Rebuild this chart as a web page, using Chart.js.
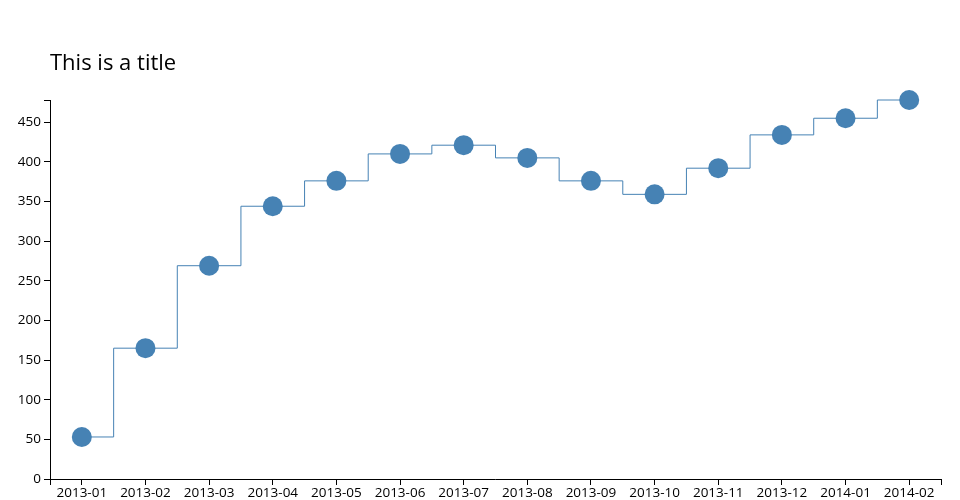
<!DOCTYPE html>
<html>
<head>
<meta charset="utf-8">
<script src="https://cdn.jsdelivr.net/npm/chart.js@4/dist/chart.umd.min.js"></script>
<style>
  html, body { margin: 0; padding: 0; background: #fff; }
  #wrap { width: 960px; height: 500px; position: relative; }
</style>
</head>
<body>
<div id="wrap"><canvas id="c" width="960" height="500"></canvas></div>
<script>
const categories = ["2013-01","2013-02","2013-03","2013-04","2013-05","2013-06","2013-07","2013-08","2013-09","2013-10","2013-11","2013-12","2014-01","2014-02"];
const values = [53, 165, 269, 344, 376, 410, 421, 405, 376, 359, 392, 434, 455, 478];
const titleText = "This is a title";
const yMax = 478;
const yStep = 50;

const FONT = "'Open Sans', 'Noto Sans', sans-serif";
const COLOR = "steelblue";

const extras = {
  id: 'extras',
  afterDraw(chart) {
    const ctx = chart.ctx;
    const a = chart.chartArea;
    ctx.save();
    ctx.strokeStyle = '#000';
    ctx.lineWidth = 1;
    ctx.beginPath();
    ctx.moveTo(a.left - 6, Math.round(a.top) + 0.5);
    ctx.lineTo(a.left + 0.5, Math.round(a.top) + 0.5);
    ctx.moveTo(Math.round(a.left) + 0.5, a.bottom);
    ctx.lineTo(Math.round(a.left) + 0.5, a.bottom + 6);
    ctx.moveTo(Math.round(a.right) + 0.5, a.bottom);
    ctx.lineTo(Math.round(a.right) + 0.5, a.bottom + 6);
    ctx.moveTo(a.left, Math.round(a.bottom) + 0.5);
    ctx.lineTo(a.right + 0.5, Math.round(a.bottom) + 0.5);
    ctx.stroke();
    ctx.fillStyle = '#000';
    ctx.font = "22px " + FONT;
    ctx.textBaseline = 'alphabetic';
    ctx.textAlign = 'left';
    ctx.fillText(titleText, 50, 70);
    ctx.restore();
  }
};

new Chart(document.getElementById('c'), {
  type: 'line',
  data: {
    labels: categories,
    datasets: [{
      data: values,
      stepped: 'middle',
      borderColor: COLOR,
      borderWidth: 1,
      pointRadius: 10,
      pointHoverRadius: 10,
      pointBackgroundColor: COLOR,
      pointBorderWidth: 0,
      fill: false,
      clip: false
    }]
  },
  options: {
    responsive: false,
    animation: false,
    layout: { padding: { top: 100, right: 19, left: 0, bottom: 0 } },
    plugins: { legend: { display: false }, tooltip: { enabled: false }, title: { display: false } },
    scales: {
      x: {
        type: 'category',
        offset: true,
        grid: { display: true, drawOnChartArea: false, offset: false, tickLength: 6, color: '#000' },
        border: { display: false },
        ticks: { color: '#000', font: { family: FONT, size: 13.5 }, padding: 0, maxRotation: 0, autoSkip: false },
        afterFit(s) { s.height = 21; }
      },
      y: {
        min: 0,
        max: yMax,
        grid: { display: true, drawOnChartArea: false, tickLength: 6, color: '#000' },
        border: { display: true, color: '#000' },
        ticks: { stepSize: yStep, includeBounds: false, color: '#000', font: { family: FONT, size: 13.5 }, padding: 3 },
        afterFit(s) { s.width = 50; }
      }
    }
  },
  plugins: [extras]
});
</script>
</body>
</html>
